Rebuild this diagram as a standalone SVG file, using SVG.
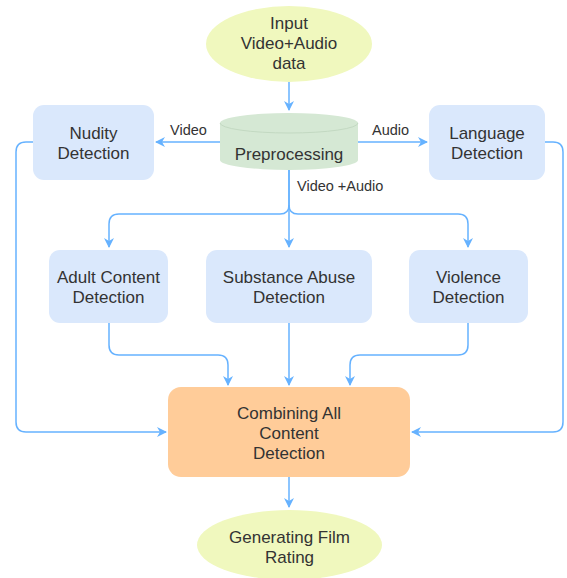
<svg xmlns="http://www.w3.org/2000/svg" width="567" height="578" viewBox="0 0 567 578">
<defs>
<marker id="arr" viewBox="0 0 10 10" refX="9" refY="5" markerWidth="10" markerHeight="10" markerUnits="userSpaceOnUse" orient="auto">
<path d="M0,0 L10,5 L0,10 L3,5 Z" fill="#66B2FF"/>
</marker>
<style>
.t{font-family:"Liberation Sans",Arial,sans-serif;font-size:17px;fill:#333;text-anchor:middle}
.l{font-family:"Liberation Sans",Arial,sans-serif;font-size:14.5px;fill:#333}
.box{fill:#DAE8FC}
.oval{fill:#F0F8BE}
.c{fill:none;stroke:#66B2FF;stroke-width:1.5;marker-end:url(#arr)}
</style>
</defs>
<rect width="567" height="578" fill="#fff"/>
<g id="connectors">
<path class="c" d="M289,82 V110"/>
<path class="c" d="M220,142 H156"/>
<path class="c" d="M358,142 H427"/>
<path class="c" d="M289,170 V205 Q289,214 280,214 H119 Q109,214 109,224 V247"/>
<path class="c" d="M289,170 V247"/>
<path class="c" d="M289,205 Q289,214 298,214 H458 Q468,214 468,224 V247"/>
<path class="c" d="M109,323 V345 Q109,355 119,355 H218 Q228,355 228,365 V385"/>
<path class="c" d="M289,323 V385"/>
<path class="c" d="M468,323 V345 Q468,355 458,355 H360 Q350,355 350,365 V385"/>
<path class="c" d="M33,142 H26 Q16,142 16,152 V422 Q16,432 26,432 H166"/>
<path class="c" d="M545,142 H553 Q563,142 563,152 V422 Q563,432 553,432 H412"/>
<path class="c" d="M289,477 V507"/>
<text class="l" x="170" y="135">Video</text>
<text class="l" x="372" y="135">Audio</text>
<text class="l" x="297" y="191">Video +Audio</text>
</g>
<g id="input">
<ellipse class="oval" cx="289" cy="44" rx="83" ry="38"/>
<text class="t" x="289" y="29">Input</text>
<text class="t" x="289" y="49">Video+Audio</text>
<text class="t" x="289" y="69">data</text>
</g>
<g id="preprocessing">
<path d="M220,123 V160 A69,10 0 0 0 358,160 V123 A69,10 0 0 0 220,123 Z" fill="#D5E8D4"/>
<path d="M220,123 A69,10 0 0 0 358,123" fill="none" stroke="#C3D9C2" stroke-width="1"/>
<text class="t" x="289" y="160">Preprocessing</text>
</g>
<g id="nudity">
<rect class="box" x="33" y="105" width="121" height="75" rx="11"/>
<text class="t" x="93.5" y="139">Nudity</text>
<text class="t" x="93.5" y="159">Detection</text>
</g>
<g id="language">
<rect class="box" x="429" y="105" width="116" height="75" rx="11"/>
<text class="t" x="487" y="139">Language</text>
<text class="t" x="487" y="159">Detection</text>
</g>
<g id="adult">
<rect class="box" x="49" y="250" width="119" height="73" rx="11"/>
<text class="t" x="108.5" y="283">Adult Content</text>
<text class="t" x="108.5" y="303">Detection</text>
</g>
<g id="substance">
<rect class="box" x="206" y="250" width="166" height="73" rx="11"/>
<text class="t" x="289" y="283">Substance Abuse</text>
<text class="t" x="289" y="303">Detection</text>
</g>
<g id="violence">
<rect class="box" x="409" y="250" width="119" height="73" rx="11"/>
<text class="t" x="468.5" y="283">Violence</text>
<text class="t" x="468.5" y="303">Detection</text>
</g>
<g id="combining">
<rect x="168" y="387" width="242" height="90" rx="13" fill="#FFCC99"/>
<text class="t" x="289" y="419">Combining All</text>
<text class="t" x="289" y="439">Content</text>
<text class="t" x="289" y="459">Detection</text>
</g>
<g id="rating">
<ellipse class="oval" cx="289.5" cy="545" rx="92.5" ry="35"/>
<text class="t" x="289.5" y="543">Generating Film</text>
<text class="t" x="289.5" y="563">Rating</text>
</g>
</svg>
